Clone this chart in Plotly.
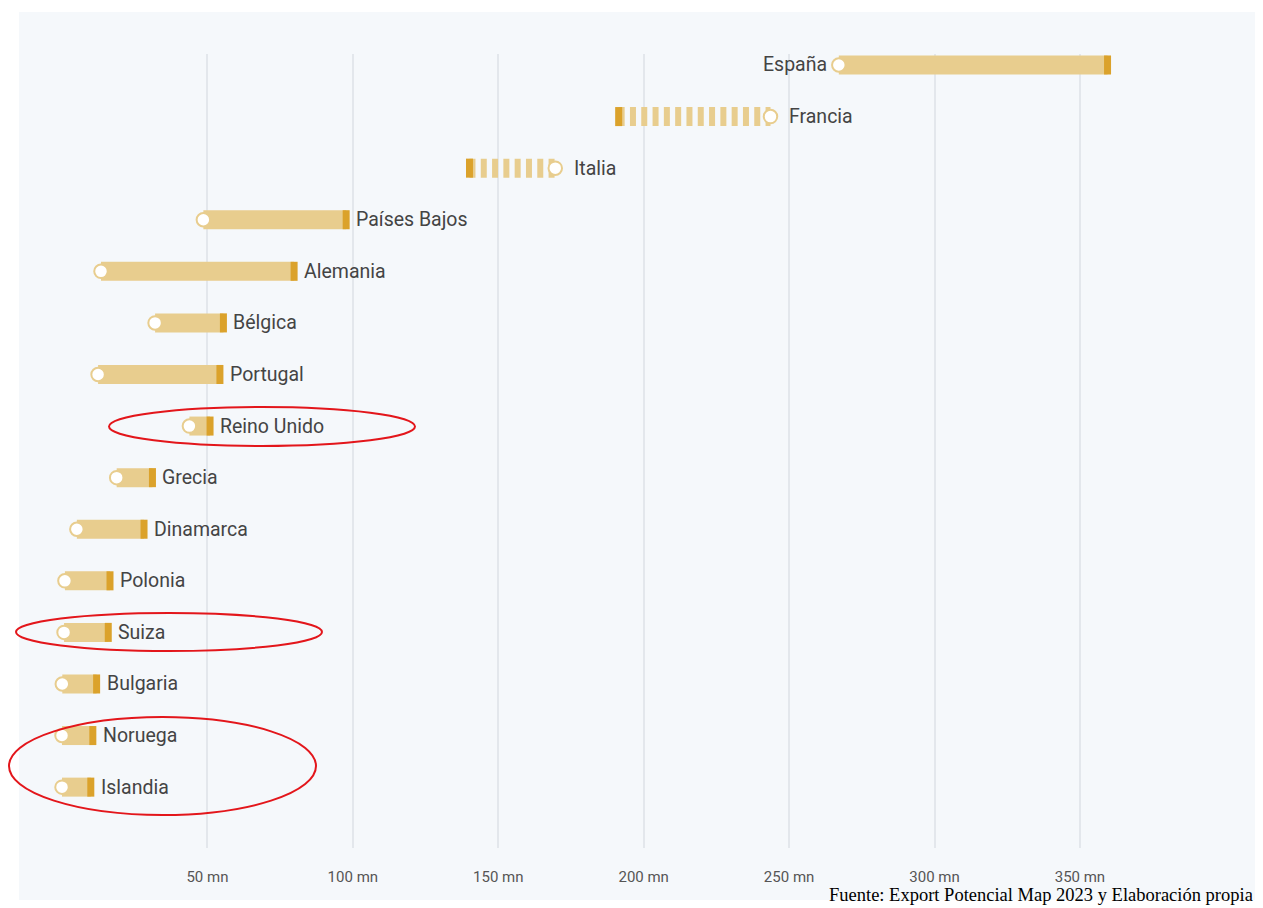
import plotly.graph_objects as go

# ── Data ────────────────────────────────────────────────────────────────────
countries = ["España", "Francia", "Italia", "Países Bajos", "Alemania", "Bélgica",
             "Portugal", "Reino Unido", "Grecia", "Dinamarca", "Polonia", "Suiza",
             "Bulgaria", "Noruega", "Islandia"]
# circle value (actual) and bar-end value (potential), millions
actual    = [267.1, 243.6, 169.6, 48.6, 13.4, 32.0, 12.4, 43.8, 18.8, 5.1, 1.0, 0.7, 0.1, 0.0, 0.0]
potential = [359.5, 191.4, 140.1, 97.7, 79.8, 55.5, 54.3, 50.9, 31.1, 28.2, 16.5, 15.9, 11.9, 10.6, 9.9]
tick_vals = [50, 100, 150, 200, 250, 300, 350]
tick_text = [f"{v} mn" for v in tick_vals]
label_left = ["España"]
source_text = "Fuente: Export Potencial Map 2023 y Elaboración propia"

# ── Styles ──────────────────────────────────────────────────────────────────
PANEL_BG  = "#f5f8fb"
GRID_COL  = "#e3e7ec"
BAR_COL   = "#e8cd8e"
MARK_COL  = "#dba22b"
TEXT_COL  = "#444444"

OFF = 8                       # page body margin
W, H = 1263 - 2 * OFF, 908 - OFF
L, R, T, B = 19 - OFF, 0, 54 - OFF, 60
PW, PH = W - L - R, H - T - B
PLOT_LEFT, PLOT_BOTTOM = 19, 848   # page pixels


def px_x(x):
    return (x - PLOT_LEFT) / PW


def px_y(y):
    return (PLOT_BOTTOM - y) / PH


rows = list(range(len(countries)))

fig = go.Figure()

# ── range bars (solid = growth, dashed = decline) ───────────────────────────
for i, (a, p) in enumerate(zip(actual, potential)):
    dashed = p < a
    fig.add_trace(go.Scatter(
        x=[p, a] if dashed else [a, p], y=[i, i], mode="lines",
        line=dict(color=BAR_COL, width=19, dash="6px,5.3px" if dashed else "solid"),
        hoverinfo="skip", showlegend=False,
    ))

# potential marker (dark tick)
fig.add_trace(go.Scatter(
    x=potential, y=rows, mode="markers",
    marker=dict(symbol="line-ns", size=13.6, color=MARK_COL,
                line=dict(color=MARK_COL, width=7)),
    showlegend=False, hoverinfo="skip",
))

# actual value circle
fig.add_trace(go.Scatter(
    x=actual, y=rows, mode="markers",
    marker=dict(symbol="circle", size=13.5, color="#ffffff",
                line=dict(color=BAR_COL, width=2)),
    showlegend=False, hoverinfo="skip",
))

# ── country labels ──────────────────────────────────────────────────────────
for i, (c, a, p) in enumerate(zip(countries, actual, potential)):
    if c in label_left:
        x, anchor, shift = a, "right", -10
    elif a > p:
        x, anchor, shift = a, "left", 17
    else:
        x, anchor, shift = p, "left", 8
    fig.add_annotation(x=x, y=i, text=c, showarrow=False, xanchor=anchor,
                       xshift=shift, font=dict(family="Roboto", size=19.5, color=TEXT_COL))

# source note
fig.add_annotation(xref="paper", yref="paper", x=1, y=px_y(907), xanchor="right",
                   yanchor="bottom", text=source_text, showarrow=False,
                   font=dict(family="Liberation Serif", size=18.5, color="#000000"))

# ── panel background + red highlight ellipses ───────────────────────────────
shapes = [dict(type="rect", xref="paper", yref="paper", layer="below",
               x0=0, x1=1, y0=px_y(900), y1=px_y(12),
               fillcolor=PANEL_BG, line=dict(width=0))]
ellipses = [(109, 407, 415, 446), (16, 613, 322, 651), (9, 717, 316, 815)]
for x0, y0, x1, y1 in ellipses:
    shapes.append(dict(type="circle", xref="paper", yref="paper",
                       x0=px_x(x0), x1=px_x(x1), y0=px_y(y1), y1=px_y(y0),
                       line=dict(color="#e3161b", width=2)))

fig.update_layout(
    width=W, height=H, autosize=False,
    margin=dict(l=L, r=R, t=T, b=B),
    paper_bgcolor="#ffffff",
    plot_bgcolor="rgba(0,0,0,0)",
    shapes=shapes,
    xaxis=dict(range=[-14.79, 410.2], tickmode="array", tickvals=tick_vals,
               ticktext=tick_text,
               showgrid=True, gridcolor=GRID_COL, gridwidth=1.5, zeroline=False,
               showline=False, ticks="", ticklabelstandoff=18,
               tickfont=dict(family="Roboto", size=15, color="#555555")),
    yaxis=dict(range=[15.18, -0.213], showgrid=False, zeroline=False,
               showticklabels=False, showline=False),
    font=dict(family="Roboto"),
)

fig.write_html("out.html")
